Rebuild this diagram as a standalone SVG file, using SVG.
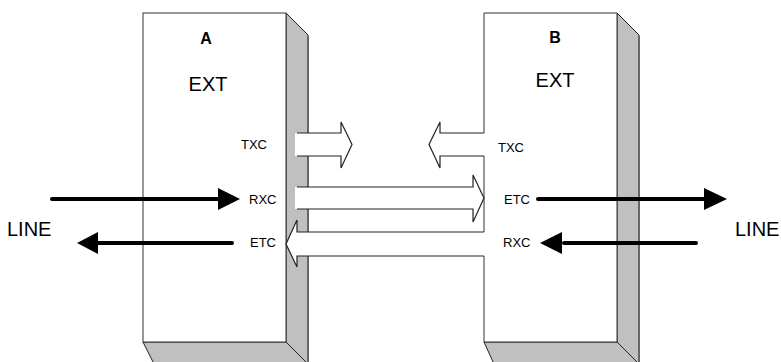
<svg xmlns="http://www.w3.org/2000/svg" width="781" height="362" viewBox="0 0 781 362">
<style>
.face{fill:#ffffff;stroke:#333333;stroke-width:1}
.edge{fill:none;stroke:#333333;stroke-width:1}
.side{fill:#c0c0c0;stroke:#222222;stroke-width:1}
.rim{fill:none;stroke:#666666;stroke-width:2}
.hollow{fill:#ffffff;stroke:none}
.hline{fill:none;stroke:#222222;stroke-width:1.2;stroke-linejoin:miter}
.thick{fill:none;stroke:#000000;stroke-width:4;stroke-linecap:round}
.head{fill:#000000;stroke:none}
text{font-family:"Liberation Sans",Arial,sans-serif;fill:#000000}
.title{font-size:16px;font-weight:bold;text-anchor:middle}
.ext{font-size:20px;text-anchor:middle}
.sig{font-size:13px}
.line{font-size:20px}
</style>
<rect width="781" height="362" fill="#ffffff"/>
<g id="nodeA">
<polygon class="side" points="286,13 308,35 308,364 286,342"/>
<polygon class="side" points="143,342 286,342 308,364 154,364"/>
<line class="rim" x1="308" y1="36" x2="308" y2="362"/>
<rect class="face" x="143" y="13" width="143" height="329"/>
<text class="title" x="206" y="44">A</text>
<text class="ext" x="208" y="91">EXT</text>
<text class="sig" x="241" y="149">TXC</text>
<text class="sig" x="249" y="204">RXC</text>
<text class="sig" x="250" y="247">ETC</text>
</g>
<g id="nodeB">
<polygon class="side" points="617,13 639,35 639,364 617,342"/>
<polygon class="side" points="484,342 617,342 639,364 494,364"/>
<line class="rim" x1="639" y1="36" x2="639" y2="362"/>
<rect x="484" y="13" width="133" height="329" fill="#ffffff"/>
<polyline class="edge" points="484,133 484,13 617,13 617,342 484,342 484,256"/>
<line class="edge" x1="484" y1="156" x2="484" y2="232"/>
<text class="title" x="555" y="43">B</text>
<text class="ext" x="555" y="87">EXT</text>
<text class="sig" x="498" y="152">TXC</text>
<text class="sig" x="504" y="204">ETC</text>
<text class="sig" x="503" y="247">RXC</text>
</g>
<g id="connectors">
<polygon class="hollow" points="295,133 341,133 341,122 352,144.5 341,168 341,156 295,156"/>
<polyline class="hline" points="297,133 341,133 341,122 352,144.5 341,168 341,156 297,156"/>
<polygon class="hollow" points="484,133 440,133 440,122 429,144.5 440,168 440,156 484,156"/>
<polyline class="hline" points="484,133 440,133 440,122 429,144.5 440,168 440,156 484,156"/>
<polygon class="hollow" points="295,187 473,187 473,175 484,198 473,222 473,209 295,209"/>
<polyline class="hline" points="297,187 473,187 473,175 484,198 473,222 473,209 297,209"/>
<polygon class="hollow" points="484,232 297,232 297,220 286,244 297,267 297,256 484,256"/>
<polyline class="hline" points="484,232 297,232 297,220 286,244 297,267 297,256 484,256"/>
<line class="thick" x1="52" y1="199" x2="220" y2="199"/>
<polygon class="head" points="218,188 240,199 218,210"/>
<line class="thick" x1="232" y1="243" x2="96" y2="243"/>
<polygon class="head" points="98,232 77,243 98,254"/>
<line class="thick" x1="538" y1="199" x2="706" y2="199"/>
<polygon class="head" points="704,188 727,199 704,210"/>
<line class="thick" x1="696" y1="243" x2="564" y2="243"/>
<polygon class="head" points="562,232 540,243 562,254"/>
<text class="line" x="7" y="236">LINE</text>
<text class="line" x="735" y="236">LINE</text>
</g>
</svg>
